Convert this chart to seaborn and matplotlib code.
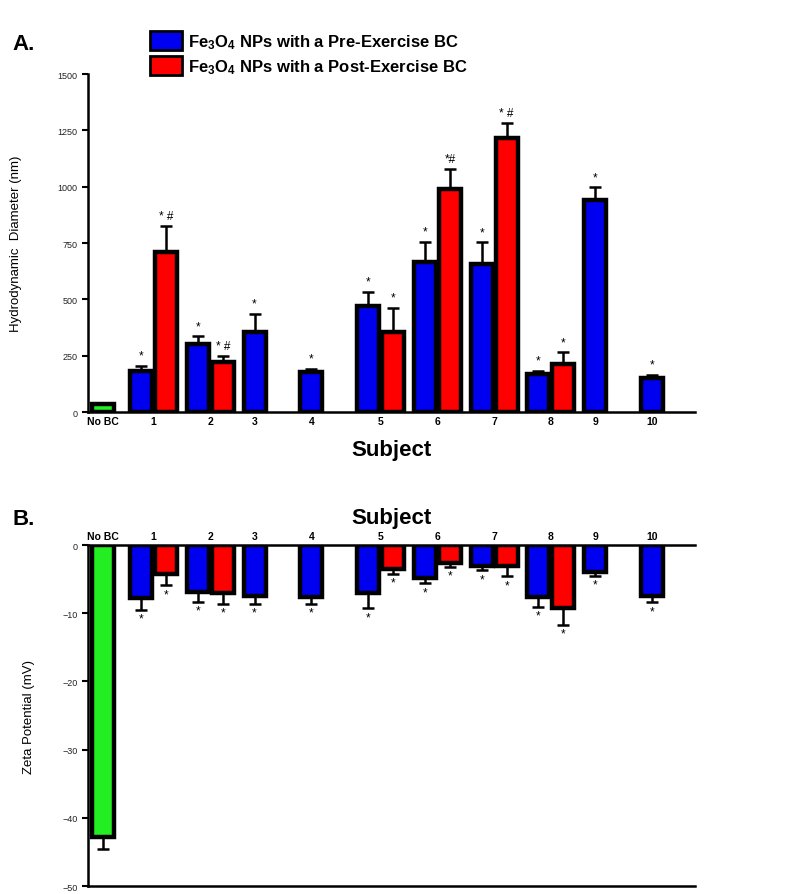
import matplotlib
matplotlib.use("Agg")
import matplotlib.pyplot as plt
import seaborn as sns
import numpy as np
import pandas as pd
from matplotlib.patches import Patch

# Data
subjects = ["1", "2", "3", "4", "5", "6", "7", "8", "9", "10"]
nobc_label = "No BC"

diam_nobc = 35
diam_nobc_err = 5
diam_pre = [183, 302, 356, 179, 472, 667, 657, 169, 942, 149]
diam_pre_err = [22, 34, 79, 14, 62, 89, 96, 14, 55, 15]
diam_post = [711, 223, np.nan, np.nan, 354, 990, 1215, 213, np.nan, np.nan]
diam_post_err = [116, 27, np.nan, np.nan, 109, 88, 66, 52, np.nan, np.nan]
diam_post_marks = ["* #", "* #", "", "", "*", "*#", "* #", "*", "", ""]

zeta_nobc = -42.8
zeta_nobc_err = 1.8
zeta_pre = [-7.8, -6.9, -7.5, -7.6, -7.1, -4.8, -3.1, -7.6, -3.9, -7.5]
zeta_pre_err = [1.7, 1.4, 1.1, 1.0, 2.2, 0.8, 0.6, 1.5, 0.6, 0.9]
zeta_post = [-4.2, -7.1, np.nan, np.nan, -3.5, -2.7, -3.1, -9.3, np.nan, np.nan]
zeta_post_err = [1.7, 1.5, np.nan, np.nan, 0.7, 0.5, 1.5, 2.4, np.nan, np.nan]

legend_pre = r"$\mathbf{Fe_3O_4}$ NPs with a Pre-Exercise BC"
legend_post = r"$\mathbf{Fe_3O_4}$ NPs with a Post-Exercise BC"

# Colours / layout
C_PRE, C_POST, C_NOBC = "#0000f0", "#ff0000", "#22ee22"
STEP = 2.27          # distance between subject groups (in bar slots)
NOBC_X = -1.52
BAR_W = 0.88
XLIM = (-2.12, 22.16)

sns.set_theme(style="ticks")
plt.rcParams["font.family"] = ["Liberation Sans", "DejaVu Sans"]
plt.rcParams["mathtext.fontset"] = "custom"
plt.rcParams["mathtext.rm"] = "Liberation Sans"
plt.rcParams["mathtext.bf"] = "Liberation Sans:bold"
plt.rcParams["mathtext.it"] = "Liberation Sans:italic"
for k in ["text.color", "axes.labelcolor", "xtick.color", "ytick.color", "axes.edgecolor"]:
    plt.rcParams[k] = "black"

pre_x = np.arange(len(subjects)) * STEP
post_x = pre_x + 1
has_post = ~np.isnan(np.array(diam_post))
tick_x = np.where(has_post, (pre_x + post_x) / 2, pre_x)


def build_frame(nobc, pre, post):
    rows = [{"x": NOBC_X, "v": nobc, "g": "nobc"}]
    for i in range(len(subjects)):
        rows.append({"x": pre_x[i], "v": pre[i], "g": "pre"})
        if not np.isnan(post[i]):
            rows.append({"x": post_x[i], "v": post[i], "g": "post"})
    return pd.DataFrame(rows)


def draw_bars(ax, df):
    sns.barplot(data=df, x="x", y="v", hue="g", native_scale=True, dodge=False,
                palette={"nobc": C_NOBC, "pre": C_PRE, "post": C_POST},
                width=BAR_W, saturation=1, edgecolor="black", linewidth=3.2,
                errorbar=None, legend=False, ax=ax)


def draw_err(ax, x, y, err, up=True):
    x = np.asarray(x, float); y = np.asarray(y, float); err = np.asarray(err, float)
    m = ~np.isnan(y)
    z = np.zeros(m.sum())
    yerr = [z, err[m]] if up else [err[m], z]
    ax.errorbar(x[m], y[m], yerr=yerr, fmt="none", ecolor="black",
                elinewidth=1.8, capsize=4, capthick=1.8, zorder=1)


fig = plt.figure(figsize=(8, 8.95), dpi=100)
ax1 = fig.add_axes([0.11, 0.5385, 0.759, 0.3777])
ax2 = fig.add_axes([0.11, 0.0089, 0.759, 0.381])

# ---- Panel A: hydrodynamic diameter
draw_bars(ax1, build_frame(diam_nobc, diam_pre, diam_post))
draw_err(ax1, [NOBC_X], [diam_nobc], [diam_nobc_err])
draw_err(ax1, pre_x, diam_pre, diam_pre_err)
draw_err(ax1, post_x, diam_post, diam_post_err)
for i in range(len(subjects)):
    ax1.annotate("*", (pre_x[i], diam_pre[i] + diam_pre_err[i]), xytext=(0, 3),
                 textcoords="offset points", ha="center", va="bottom", fontsize=8.5)
    if diam_post_marks[i]:
        ax1.annotate(diam_post_marks[i], (post_x[i], diam_post[i] + diam_post_err[i]),
                     xytext=(0, 3), textcoords="offset points", ha="center",
                     va="bottom", fontsize=8.5)
ax1.set_xlim(*XLIM)
ax1.set_ylim(0, 1500)
ax1.set_yticks([0, 250, 500, 750, 1000, 1250, 1500])
ax1.set_xticks(np.r_[NOBC_X, tick_x])
ax1.set_xticklabels([nobc_label] + subjects, fontsize=7.5, fontweight="bold")
ax1.tick_params(axis="x", length=0, pad=3)
ax1.tick_params(axis="y", labelsize=6.5, labelcolor="#222222", length=4, width=1.5)
ax1.set_xlabel("Subject", fontsize=16, fontweight="bold", labelpad=9)
ax1.set_ylabel("Hydrodynamic  Diameter (nm)", fontsize=9.5)
ax1.yaxis.set_label_coords(-66 / 607, 0.5)
sns.despine(ax=ax1)
for s in ["left", "bottom"]:
    ax1.spines[s].set_linewidth(1.8)

# ---- Panel B: zeta potential
draw_bars(ax2, build_frame(zeta_nobc, zeta_pre, zeta_post))
draw_err(ax2, [NOBC_X], [zeta_nobc], [zeta_nobc_err], up=False)
draw_err(ax2, pre_x, zeta_pre, zeta_pre_err, up=False)
draw_err(ax2, post_x, zeta_post, zeta_post_err, up=False)
for i in range(len(subjects)):
    ax2.annotate("*", (pre_x[i], zeta_pre[i] - zeta_pre_err[i]), xytext=(0, -2),
                 textcoords="offset points", ha="center", va="top", fontsize=8.5)
    if not np.isnan(zeta_post[i]):
        ax2.annotate("*", (post_x[i], zeta_post[i] - zeta_post_err[i]), xytext=(0, -2),
                     textcoords="offset points", ha="center", va="top", fontsize=8.5)
ax2.set_xlim(*XLIM)
ax2.set_ylim(-50, 0)
ax2.set_yticks([-50, -40, -30, -20, -10, 0])
ax2.xaxis.tick_top()
ax2.xaxis.set_label_position("top")
ax2.set_xticks(np.r_[NOBC_X, tick_x])
ax2.set_xticklabels([nobc_label] + subjects, fontsize=7.5, fontweight="bold")
ax2.tick_params(axis="x", length=0, pad=3)
ax2.tick_params(axis="y", labelsize=6.5, labelcolor="#222222", length=4, width=1.5)
ax2.set_xlabel("Subject", fontsize=16, fontweight="bold", labelpad=6)
ax2.set_ylabel("Zeta Potential (mV)", fontsize=9.5)
ax2.yaxis.set_label_coords(-53 / 607, 0.5)
ax2.spines["right"].set_visible(False)
for s in ["left", "top", "bottom"]:
    ax2.spines[s].set_linewidth(1.8)

# Panel letters and legend
fig.text(12 / 800, 1 - 50 / 895, "A.", fontsize=16, fontweight="bold")
fig.text(12 / 800, 1 - 525 / 895, "B.", fontsize=16, fontweight="bold")
handles = [Patch(facecolor=C_PRE, edgecolor="black", linewidth=2, label=legend_pre),
           Patch(facecolor=C_POST, edgecolor="black", linewidth=2, label=legend_post)]
fig.legend(handles=handles, loc="upper left", bbox_to_anchor=(150 / 800, 1 - 32 / 895),
           frameon=False, borderpad=0, borderaxespad=0, handlelength=1.9,
           handleheight=1.4, labelspacing=0.3, handletextpad=0.4,
           prop={"size": 12, "weight": "bold"})

fig.savefig("out.png", dpi=100)
